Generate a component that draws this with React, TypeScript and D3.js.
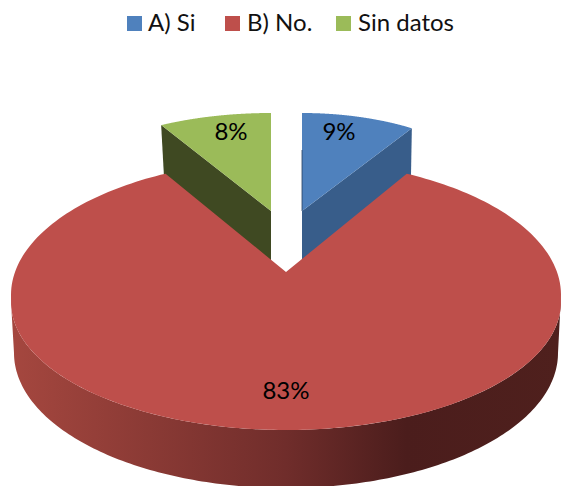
import React from "react";
import * as d3 from "d3";

const categories = ["A) Si", "B) No.", "Sin datos"];
const values = [9, 83, 8];
const labels = ["9%", "83%", "8%"];
const colors = ["#4F81BD", "#BE4F4B", "#9BBB59"];
const sideColors = ["#385D8A", "url(#redSide)", "#3F4922"];

const legendSwatchX = [127, 225, 336];
const legendTextX = [148, 247, 358];

// projected geometry per slice: apex, ellipse centre, radii, perspective squeeze (right / left half)
// the near half of the big slice uses its own centre and radius (cyLow, ryLow) because of the perspective
const geom = [
  { ax: 302, ay: 211, cx: 302, cy: 211, rx: 205, ry: 98, cyLow: 211, ryLow: 98, kR: 1, kL: 1, depth: 55, lx: 339, ly: 134 },
  { ax: 286, ay: 272, cx: 286, cy: 295, rx: 275, ry: 135, cyLow: 302, ryLow: 128, kR: 0.77, kL: 0.886, depth: 55, lx: 286, ly: 393 },
  { ax: 271, ay: 211, cx: 271, cy: 211, rx: 228, ry: 98, cyLow: 211, ryLow: 98, kR: 1, kL: 1, depth: 55, lx: 231, ly: 134 },
];

const bottom = { cx: 286, cy: 353, rx: 272, ry: 135 };

const pieGen = d3.pie<number>().sort(null).startAngle(0).endAngle(2 * Math.PI);
const arcs = pieGen(values);
const line = d3.line<[number, number]>().x((d) => d[0]).y((d) => d[1]);

type G = (typeof geom)[number];
const warp = (g: G, t: number) => Math.atan2((t < Math.PI ? g.kR : g.kL) * Math.sin(t), Math.cos(t));
const project = (g: G, a: number): [number, number] => {
  const c = Math.cos(a);
  return [g.cx + g.rx * Math.sin(a), c < 0 ? g.cyLow - g.ryLow * c : g.cy - g.ry * c];
};
const pt = (g: G, t: number) => project(g, warp(g, t));
const slicePath = (g: G, a0: number, a1: number) => {
  const ang = d3.range(0, 241).map((i) => a0 + ((a1 - a0) * i) / 240);
  return line([[g.ax, g.ay], ...ang.map((t) => pt(g, t))]) + "Z";
};

// red cylinder wall
const wallAngles = d3.range(0, 181).map((i) => Math.PI / 2 + (Math.PI * i) / 180);
const wallPath = (() => {
  const top = wallAngles.map((t) => project(geom[1], t));
  const low = wallAngles
    .map((t): [number, number] => [bottom.cx + bottom.rx * Math.sin(t), bottom.cy - bottom.ry * Math.cos(t)])
    .reverse();
  return line([...top, ...low]) + "Z";
})();

// flat walls of the two pulled-out slices (their lower part runs under the big slice)
const flatWall = (i: number, angle: number) => {
  const g = geom[i];
  const p = pt(g, angle);
  const inset = i === 0 ? -1 : 3;
  return (
    line([
      [g.ax, g.ay],
      p,
      [p[0] + inset, p[1] + g.depth],
      [g.ax, g.ay + g.depth],
    ]) + "Z"
  );
};

const font = "Lato, 'Open Sans', sans-serif";

export default function App() {
  return (
    <svg
      width={562}
      height={486}
      viewBox="0 0 562 486"
      style={{ position: "absolute", left: 0, top: 0, display: "block" }}
    >
      <defs>
        <linearGradient id="redSide" gradientUnits="userSpaceOnUse" x1="11" x2="560" y1="0" y2="0">
          <stop offset="0" stopColor="#A5473F" />
          <stop offset="0.5" stopColor="#702D2B" />
          <stop offset="0.72" stopColor="#4B1D1C" />
          <stop offset="1" stopColor="#4F201D" />
        </linearGradient>
      </defs>
      <rect width={562} height={486} fill="#fff" />

      <path d={flatWall(0, arcs[0].endAngle)} fill={sideColors[0]} />
      <path d={flatWall(2, arcs[2].startAngle)} fill={sideColors[2]} />
      <path d={slicePath(geom[0], arcs[0].startAngle, arcs[0].endAngle)} fill={colors[0]} />
      <path d={slicePath(geom[2], arcs[2].startAngle, arcs[2].endAngle)} fill={colors[2]} />
      <line x1={geom[0].ax} x2={geom[0].ax} y1={150} y2={geom[0].ay} stroke="#26405F" strokeWidth={0.8} />

      <path d={wallPath} fill={sideColors[1]} />
      <path d={slicePath(geom[1], arcs[1].startAngle, arcs[1].endAngle)} fill={colors[1]} />

      {labels.map((t, i) => (
        <text
          key={t}
          x={geom[i].lx}
          y={geom[i].ly}
          textAnchor="middle"
          dominantBaseline="middle"
          fontFamily={font}
          fontSize={24}
          fill="#000"
        >
          {t}
        </text>
      ))}

      {categories.map((c, i) => (
        <g key={c}>
          <rect x={legendSwatchX[i]} y={16} width={15} height={15} fill={colors[i]} />
          <text x={legendTextX[i]} y={31} fontFamily={font} fontSize={24} fill="#111">
            {c}
          </text>
        </g>
      ))}
    </svg>
  );
}
